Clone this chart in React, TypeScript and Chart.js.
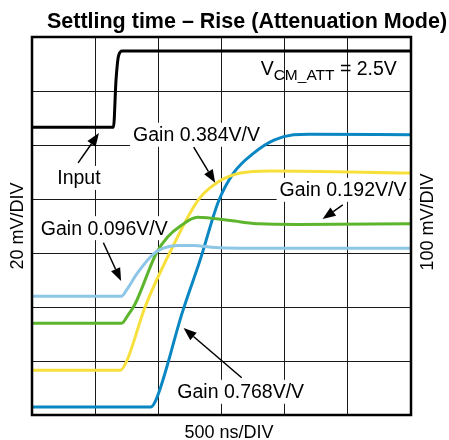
import React, { useEffect, useRef } from "react";
import { Chart, registerables } from "chart.js";

Chart.register(...registerables);

// ---- data (x in divisions of 500 ns, y in vertical divisions) ----
const inputT = [0, 1.29, 1.33, 1.37, 1.43, 6];
const inputV = [5.33, 5.33, 6.2, 6.65, 6.74, 6.74];

const gain768T = [0, 1.88, 1.97, 2.38, 2.67, 2.95, 3.19, 3.51, 3.83, 4.14, 4.4, 6];
const gain768V = [0.15, 0.15, 0.3, 1.9, 2.9, 3.95, 4.48, 4.85, 5.09, 5.19, 5.2, 5.19];

const gain384T = [0, 1.4, 1.5, 1.79, 2.2, 2.63, 2.94, 3.3, 3.78, 6];
const gain384V = [0.83, 0.83, 1.0, 2.0, 3.05, 3.98, 4.31, 4.48, 4.52, 4.48];

const gain192T = [0, 1.42, 1.52, 1.63, 1.97, 2.15, 2.35, 2.62, 3.14, 3.6, 4.2, 6];
const gain192V = [1.7, 1.7, 1.85, 2.05, 3.0, 3.3, 3.5, 3.66, 3.6, 3.54, 3.53, 3.54];

const gain096T = [0, 1.42, 1.5, 1.67, 1.92, 2.08, 2.3, 2.55, 2.9, 3.3, 6];
const gain096V = [2.2, 2.2, 2.32, 2.63, 2.98, 3.09, 3.14, 3.14, 3.1, 3.09, 3.09];

const titleText = "Settling time \u2013 Rise (Attenuation Mode)";
const xLabel = "500 ns/DIV";
const yLeftLabel = "20 mV/DIV";
const yRightLabel = "100 mV/DIV";

const FONT = "'Liberation Sans', Arial, sans-serif";

const toPts = (t: number[], v: number[]) => t.map((x, i) => ({ x, y: v[i] }));

// annotation labels: left x (div), center y (div); arrow [x0,y0,x1,y1] in div units
const labels = [
  { text: "Gain 0.384V/V", x: 1.6, y: 5.19, arrow: [2.56, 4.96, 2.9, 4.3] },
  { text: "Input", x: 0.4, y: 4.39, arrow: [0.73, 4.67, 1.06, 5.22] },
  { text: "Gain 0.192V/V", x: 3.92, y: 4.17, arrow: [4.92, 3.89, 4.6, 3.63] },
  { text: "Gain 0.096V/V", x: 0.14, y: 3.46, arrow: [1.13, 3.19, 1.41, 2.48] },
  { text: "Gain 0.768V/V", x: 2.3, y: 0.43, arrow: [3.32, 0.69, 2.4, 1.61] },
];

const annotationPlugin = {
  id: "annot",
  beforeDatasetsDraw(chart: any) {
    const ctx = chart.ctx;
    const xs = chart.scales.x;
    const ys = chart.scales.y;
    ctx.save();
    ctx.font = `19.5px ${FONT}`;
    ctx.fillStyle = "#ffffff";
    for (const l of labels) {
      const px = xs.getPixelForValue(l.x);
      const py = ys.getPixelForValue(l.y);
      const w = ctx.measureText(l.text).width;
      ctx.fillRect(px - 3, py - 12, w + 6, 24);
    }
    ctx.restore();
  },
  afterDatasetsDraw(chart: any) {
    const ctx = chart.ctx;
    const xs = chart.scales.x;
    const ys = chart.scales.y;
    const ca = chart.chartArea;
    ctx.save();
    // frame
    ctx.strokeStyle = "#000";
    ctx.lineWidth = 2.5;
    ctx.strokeRect(ca.left, ca.top, ca.right - ca.left, ca.bottom - ca.top);

    ctx.fillStyle = "#000";
    ctx.textBaseline = "middle";
    ctx.textAlign = "left";
    ctx.font = `19.5px ${FONT}`;
    for (const l of labels) {
      const px = xs.getPixelForValue(l.x);
      const py = ys.getPixelForValue(l.y);
      ctx.fillText(l.text, px, py + 1);
      const [ax0, ay0, ax1, ay1] = l.arrow;
      const x0 = xs.getPixelForValue(ax0);
      const y0 = ys.getPixelForValue(ay0);
      const x1 = xs.getPixelForValue(ax1);
      const y1 = ys.getPixelForValue(ay1);
      const ang = Math.atan2(y1 - y0, x1 - x0);
      const hl = 13;
      const hw = 5;
      const bx = x1 - hl * Math.cos(ang);
      const by = y1 - hl * Math.sin(ang);
      ctx.strokeStyle = "#000";
      ctx.lineWidth = 1.5;
      ctx.beginPath();
      ctx.moveTo(x0, y0);
      ctx.lineTo(bx, by);
      ctx.stroke();
      ctx.beginPath();
      ctx.moveTo(x1, y1);
      ctx.lineTo(bx + hw * Math.sin(ang), by - hw * Math.cos(ang));
      ctx.lineTo(bx - hw * Math.sin(ang), by + hw * Math.cos(ang));
      ctx.closePath();
      ctx.fill();
    }

    // V_CM_ATT label
    const vx = xs.getPixelForValue(3.62);
    const vy = ys.getPixelForValue(6.3);
    ctx.textBaseline = "alphabetic";
    ctx.font = `19.5px ${FONT}`;
    ctx.fillText("V", vx, vy);
    let cx = vx + ctx.measureText("V").width;
    ctx.font = `15.5px ${FONT}`;
    ctx.fillText("CM_ATT", cx, vy + 5);
    cx += ctx.measureText("CM_ATT").width;
    ctx.font = `19.5px ${FONT}`;
    ctx.fillText(" = 2.5V", cx, vy);

    // title
    ctx.textAlign = "center";
    ctx.textBaseline = "middle";
    ctx.font = `bold 21.5px ${FONT}`;
    ctx.fillText(titleText, 247, 22);

    // x label
    ctx.font = `18px ${FONT}`;
    ctx.fillText(xLabel, 229, 433);

    // y labels
    ctx.save();
    ctx.translate(18, 226);
    ctx.rotate(-Math.PI / 2);
    ctx.fillText(yLeftLabel, 0, 0);
    ctx.restore();
    ctx.save();
    ctx.translate(428, 222);
    ctx.rotate(-Math.PI / 2);
    ctx.fillText(yRightLabel, 0, 0);
    ctx.restore();

    ctx.restore();
  },
};

export default function App() {
  const ref = useRef<HTMLCanvasElement | null>(null);
  useEffect(() => {
    if (!ref.current) return;
    const mk = (t: number[], v: number[], color: string) => ({
      data: toPts(t, v),
      borderColor: color,
      borderWidth: 3,
      pointRadius: 0,
      fill: false,
      cubicInterpolationMode: "monotone" as const,
      borderJoinStyle: "round" as const,
    });
    const chart = new Chart(ref.current, {
      type: "line",
      data: {
        datasets: [
          mk(inputT, inputV, "#000000"),
          mk(gain096T, gain096V, "#8DC6E6"),
          mk(gain192T, gain192V, "#5DB52E"),
          mk(gain384T, gain384V, "#F7E03C"),
          mk(gain768T, gain768V, "#0A87C2"),
        ],
      },
      options: {
        animation: false,
        responsive: false,
        events: [],
        layout: { padding: { left: 32, right: 38, top: 37, bottom: 25 } },
        plugins: { legend: { display: false }, tooltip: { enabled: false }, title: { display: false } },
        scales: {
          x: {
            type: "linear",
            min: 0,
            max: 6,
            ticks: { display: false, stepSize: 1 },
            grid: { color: "#1a1a1a", lineWidth: 1, drawTicks: false },
            border: { display: false },
            afterFit: (s: any) => { s.height = 0; },
          },
          y: {
            type: "linear",
            min: 0,
            max: 7,
            ticks: { display: false, stepSize: 1 },
            grid: { color: "#1a1a1a", lineWidth: 1, drawTicks: false },
            border: { display: false },
            afterFit: (s: any) => { s.width = 0; },
          },
        },
      },
      plugins: [annotationPlugin],
    });
    return () => chart.destroy();
  }, []);
  return (
    <div style={{ position: "fixed", left: 0, top: 0, width: 449, height: 440, background: "#fff" }}>
      <canvas ref={ref} width={449} height={440} style={{ width: 449, height: 440 }} />
    </div>
  );
}
